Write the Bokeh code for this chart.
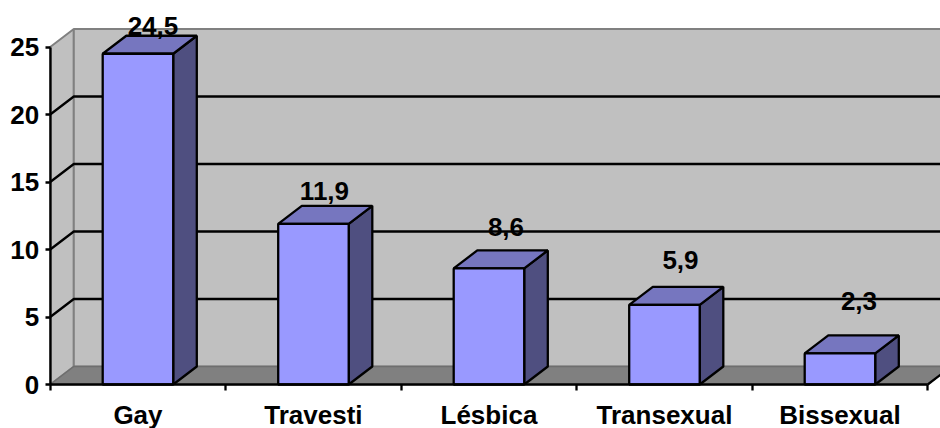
from bokeh.embed import file_html
from bokeh.models import ColumnDataSource, FixedTicker, Range1d
from bokeh.plotting import figure
from bokeh.resources import INLINE
from bokeh.core.properties import value

categories = ["Gay", "Travesti", "Lésbica", "Transexual", "Bissexual"]
totals = [24.5, 11.9, 8.6, 5.9, 2.3]
labels = ["24,5", "11,9", "8,6", "5,9", "2,3"]
y_ticks = [0, 5, 10, 15, 20, 25]

# pixel scale of the axes and depth of the oblique projection
PX_PER_CATEGORY = 175.5
PX_PER_UNIT = 13.5
ORIGIN_X = 49.7
ORIGIN_Y = 384.0
DEPTH_X = 23.6 / PX_PER_CATEGORY
DEPTH_Y = 18 / PX_PER_UNIT
BAR_WIDTH = 70.5 / PX_PER_CATEGORY
N = len(categories)
FONT = "Liberation Sans"
EDGE = 2.3

p = figure(
    width=940, height=428, output_backend="svg", toolbar_location=None,
    x_range=Range1d(-ORIGIN_X / PX_PER_CATEGORY, (940 - ORIGIN_X) / PX_PER_CATEGORY),
    y_range=Range1d(-(428 - ORIGIN_Y) / PX_PER_UNIT, ORIGIN_Y / PX_PER_UNIT),
    min_border=0,
    background_fill_color="white", border_fill_color="white",
    outline_line_color=None,
)
p.grid.visible = False

# side wall, back wall and floor of the box
p.patch([0, DEPTH_X, DEPTH_X, 0], [0, DEPTH_Y, 25 + DEPTH_Y, 25],
        fill_color="#C0C0C0", line_color="#808080", line_width=2)
p.patch([DEPTH_X, N + DEPTH_X, N + DEPTH_X, DEPTH_X],
        [DEPTH_Y, DEPTH_Y, 25 + DEPTH_Y, 25 + DEPTH_Y],
        fill_color="#C0C0C0", line_color="#808080", line_width=2)
p.patch([0, N, N + DEPTH_X, DEPTH_X], [0, 0, DEPTH_Y, DEPTH_Y],
        fill_color="#808080", line_color="#6E6E6E", line_width=1.5)
p.line([N, N + DEPTH_X], [0, DEPTH_Y], line_color="black", line_width=EDGE)

# gridlines run across the side wall and then along the back wall
for v in y_ticks[1:-1]:
    p.line([0, DEPTH_X, N + DEPTH_X], [v, v + DEPTH_Y, v + DEPTH_Y],
           line_color="black", line_width=EDGE)

# each bar: side face, top face, front face
lefts = [i + 0.5 - BAR_WIDTH / 2 for i in range(N)]
rights = [x + BAR_WIDTH for x in lefts]
p.patches(
    [[r, r + DEPTH_X, r + DEPTH_X, r] for r in rights],
    [[0, DEPTH_Y, t + DEPTH_Y, t] for t in totals],
    fill_color="#4F4F80", line_color="black", line_width=EDGE,
)
p.patches(
    [[l, l + DEPTH_X, r + DEPTH_X, r] for l, r in zip(lefts, rights)],
    [[t, t + DEPTH_Y, t + DEPTH_Y, t] for t in totals],
    fill_color="#7676BF", line_color="black", line_width=EDGE,
)
p.quad(left=lefts, right=rights, bottom=0, top=totals,
       fill_color="#9999FF", line_color="black", line_width=EDGE)

# value labels sit above and behind each bar
src = ColumnDataSource(dict(
    x=[i + 0.5 for i in range(N)], y=totals, text=labels,
    dx=[15, 11, 17, 16, 19], dy=[-28, -33, -41, -45, -52],
))
p.text("x", "y", text="text", x_offset="dx", y_offset="dy", source=src,
       text_font=value(FONT), text_font_style="bold", text_font_size="26px",
       text_color="black", text_align="center", text_baseline="middle")

# axes are pinned to the front edge of the box
yax = p.yaxis[0]
yax.fixed_location = 0
yax.ticker = FixedTicker(ticks=y_ticks)
yax.bounds = (0, 25)
yax.axis_line_color = "black"
yax.axis_line_width = EDGE
yax.major_tick_line_color = "black"
yax.major_tick_line_width = EDGE
yax.major_tick_out = 5
yax.major_tick_in = 0
yax.minor_tick_line_color = None
yax.major_label_standoff = 6
yax.major_label_text_font = FONT
yax.major_label_text_font_style = "bold"
yax.major_label_text_font_size = "26px"
yax.major_label_text_color = "black"

xax = p.xaxis[0]
xax.fixed_location = 0
xax.ticker = FixedTicker(ticks=[i + 0.5 for i in range(N)],
                         minor_ticks=list(range(N + 1)))
xax.major_label_overrides = {i + 0.5: c for i, c in enumerate(categories)}
xax.bounds = (0, N)
xax.axis_line_color = "black"
xax.axis_line_width = EDGE
xax.major_tick_line_color = None
xax.minor_tick_line_color = "black"
xax.minor_tick_line_width = EDGE
xax.minor_tick_out = 6
xax.minor_tick_in = 0
xax.major_label_standoff = 18 - 9
xax.major_label_text_font = FONT
xax.major_label_text_font_style = "bold"
xax.major_label_text_font_size = "26px"
xax.major_label_text_color = "black"

open("out.html", "w").write(file_html(p, INLINE))
